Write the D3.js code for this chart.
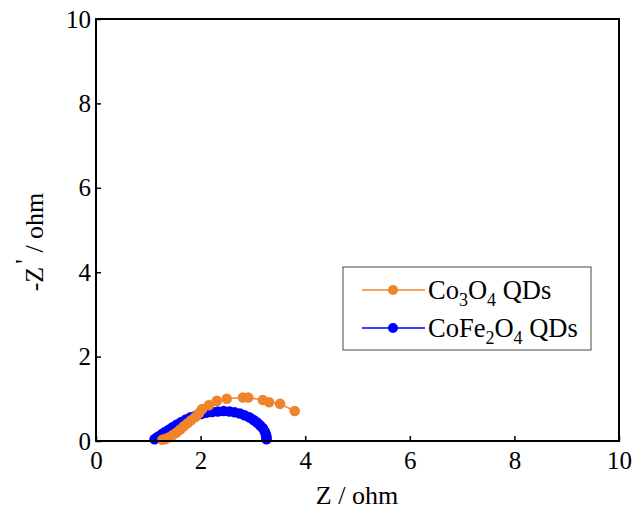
<!doctype html>
<html>
<head>
<meta charset="utf-8"/>
<title>Nyquist</title>
<script src="https://d3js.org/d3.v7.min.js"></script>
<style>
body { margin: 0; background: #fff; }
text { font-family: "Liberation Serif", "Times New Roman", serif; fill: #000; }
</style>
</head>
<body>
<div id="chart"></div>
<script>
// data
var co3o4X = [1.27, 1.33, 1.40, 1.47, 1.54, 1.61, 1.68, 1.75, 1.82, 1.90, 1.97, 2.03, 2.16, 2.31, 2.50, 2.81, 2.91, 3.19, 3.31, 3.52, 3.80];
var co3o4Y = [0.03, 0.05, 0.09, 0.14, 0.20, 0.27, 0.35, 0.42, 0.49, 0.57, 0.66, 0.76, 0.85, 0.95, 1.00, 1.03, 1.03, 0.97, 0.92, 0.88, 0.71];

var cofeX = [1.12, 1.16, 1.21, 1.27, 1.33, 1.40, 1.47, 1.55, 1.63, 1.72, 1.81, 1.91, 2.01, 2.11, 2.22, 2.33, 2.44, 2.55, 2.65, 2.75, 2.84, 2.93, 3.01, 3.08, 3.14, 3.19, 3.23, 3.25, 3.26, 3.26];
var cofeY = [0.04, 0.08, 0.12, 0.17, 0.22, 0.27, 0.33, 0.39, 0.45, 0.51, 0.56, 0.60, 0.64, 0.67, 0.69, 0.70, 0.71, 0.70, 0.68, 0.65, 0.61, 0.56, 0.50, 0.44, 0.37, 0.30, 0.22, 0.15, 0.09, 0.04];

var xTicks = [0, 2, 4, 6, 8, 10];
var yTicks = [0, 2, 4, 6, 8, 10];

var W = 635, H = 512;
var mLeft = 96, mRight = 619, mTop = 19, mBottom = 441;

var svg = d3.select("#chart").append("svg")
    .attr("width", W)
    .attr("height", H);

var x = d3.scaleLinear().domain([0, 10]).range([mLeft, mRight]);
var y = d3.scaleLinear().domain([0, 10]).range([mBottom, mTop]);

var series = [
    { name: "CoFe2O4", xs: cofeX, ys: cofeY, color: "#0000ff" },
    { name: "Co3O4", xs: co3o4X, ys: co3o4Y, color: "#f0842c" }
];

var line = d3.line().x(function(d) { return x(d[0]); }).y(function(d) { return y(d[1]); });

series.forEach(function(s) {
    var pts = s.xs.map(function(v, i) { return [v, s.ys[i]]; });
    svg.append("path")
        .attr("d", line(pts))
        .attr("fill", "none")
        .attr("stroke", s.color)
        .attr("stroke-width", 1.5);
    svg.selectAll(null).data(pts).enter().append("circle")
        .attr("cx", function(d) { return x(d[0]); })
        .attr("cy", function(d) { return y(d[1]); })
        .attr("r", 5.3)
        .attr("fill", s.color);
});

// axes with inward ticks
var xAxis = svg.append("g").attr("transform", "translate(0," + mBottom + ")")
    .call(d3.axisBottom(x).tickValues(xTicks).tickSizeInner(-5).tickSizeOuter(0).tickPadding(10));
var yAxis = svg.append("g").attr("transform", "translate(" + mLeft + ",0)")
    .call(d3.axisLeft(y).tickValues(yTicks).tickSizeInner(-5).tickSizeOuter(0).tickPadding(5));

[xAxis, yAxis].forEach(function(g) {
    g.attr("font-size", 25).attr("font-family", "Liberation Serif");
    g.select(".domain").remove();
    g.selectAll("line").attr("stroke", "#000").attr("stroke-width", 1.5);
});

// frame
svg.append("rect")
    .attr("x", mLeft).attr("y", mTop)
    .attr("width", mRight - mLeft).attr("height", mBottom - mTop)
    .attr("fill", "none").attr("stroke", "#000").attr("stroke-width", 2);

// axis titles
svg.append("text")
    .attr("x", 357).attr("y", 504)
    .attr("text-anchor", "middle").attr("font-size", 26)
    .text("Z / ohm");

var yt = svg.append("text")
    .attr("transform", "translate(43," + 242 + ") rotate(-90)")
    .attr("text-anchor", "middle").attr("font-size", 26);
yt.append("tspan").text("-Z");
yt.append("tspan").attr("dx", 3).attr("dy", -10).text("'");
yt.append("tspan").attr("dy", 10).text(" / ohm");

// legend
var lg = svg.append("g");
lg.append("rect")
    .attr("x", 343).attr("y", 267).attr("width", 248).attr("height", 83)
    .attr("fill", "#fff").attr("stroke", "#444").attr("stroke-width", 1);

var legendItems = [
    { color: "#f0842c", parts: [["Co", 0], ["3", 1], ["O", 0], ["4", 1], [" QDs", 0]] },
    { color: "#0000ff", parts: [["CoFe", 0], ["2", 1], ["O", 0], ["4", 1], [" QDs", 0]] }
];
legendItems.forEach(function(it, i) {
    var cy = 290 + i * 38;
    lg.append("line").attr("x1", 362).attr("x2", 425).attr("y1", cy).attr("y2", cy)
        .attr("stroke", it.color).attr("stroke-width", 1.5);
    lg.append("circle").attr("cx", 393).attr("cy", cy).attr("r", 5).attr("fill", it.color);
    var t = lg.append("text").attr("x", 428).attr("y", cy + 9).attr("font-size", 26.5);
    var prevSub = 0;
    it.parts.forEach(function(p) {
        var ts = t.append("tspan").text(p[0]);
        var dy = (p[1] - prevSub) * 7;
        if (dy !== 0) ts.attr("dy", dy);
        if (p[1]) ts.attr("font-size", 18);
        prevSub = p[1];
    });
});
</script>
</body>
</html>
